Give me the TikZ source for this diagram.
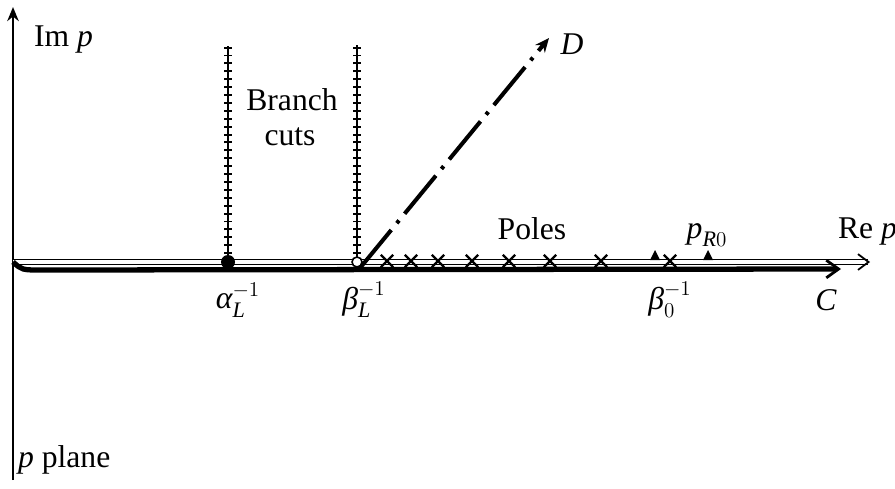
\documentclass[tikz,border=0pt]{standalone}
\usepackage{amsmath}
\usepackage{fontspec}
\setmainfont{Liberation Serif}
\usepackage{tikz}
\usetikzlibrary{arrows.meta,positioning,calc,shapes.misc}
\tikzset{
  lbl/.style={font=\fontsize{18}{21}\selectfont,inner sep=1pt},
  cutline/.style={line width=1.5pt},
  cutbeads/.style={line width=4.4pt,dash pattern=on 1.1pt off 3.4pt},
  pole/.style={cross out,draw,line width=1.3pt,minimum size=5.8pt,inner sep=0pt},
  tri/.style={fill=black},
}

\begin{document}
\begin{tikzpicture}[x=0.02cm,y=0.02cm]
\useasboundingbox (0,0) rectangle (895,488);
\coordinate (ybot) at (13,8);
\coordinate (ytop) at (13,481);
\coordinate (O) at (13,226);
\coordinate (xend) at (870,226);
\coordinate (cend) at (841,219);
\coordinate (aL) at (228,226);
\coordinate (aLtop) at (228,442);
\coordinate (bL) at (357,226);
\coordinate (bLtop) at (357,443);
\coordinate (Dstart) at (360,220);
\coordinate (Dend) at (549,450);
\draw[line width=1.4pt,-{Stealth[length=8pt,width=6.5pt]}] (ybot) -- (ytop);
\draw[line width=0.7pt,double,double distance=2.3pt,-{Straight Barb[length=6pt,width=9pt,line width=1pt]}] (O) -- (xend);
\draw[line width=3pt,-{Straight Barb[length=7pt,width=10pt,line width=1.6pt]}] (O) .. controls (22,218) .. (42,218) -- (cend);
\draw[cutline] (aL) -- (aLtop);
\draw[cutbeads] (aL) -- (aLtop);
\draw[cutline] (bL) -- (bLtop);
\draw[cutbeads] (bL) -- (bLtop);
\fill (aL) circle[radius=7];
\filldraw[fill=white,draw=black,line width=0.9pt] (bL) circle[radius=5];
\draw[line width=2.3pt,dash pattern=on 28pt off 5pt on 2pt off 5pt,-{Stealth[length=8pt,width=7pt]}] (Dstart) -- (Dend);
\foreach \px [count=\i] in {387,411,438,472,509,550,601,670}
  \node[pole] (pole\i) at (\px,227) {};
\fill[tri] (650,228) -- (660,228) -- (655,238) -- cycle;
\fill[tri] (703,228) -- (713,228) -- (708,238) -- cycle;
\node[lbl,anchor=west] (imlbl) at (32,448) {Im \textit{p}};
\node[lbl,anchor=west] (plane) at (16,28) {\textit{p} plane};
\node[lbl] (branch) at (292,388) {Branch};
\node[lbl] (cuts) at (290,351) {cuts};
\node[lbl] (alpha) at (238,188) {$\textit{α}^{-1}_{\textit{L}}$};
\node[lbl] (betaL) at (364,188) {$\textit{β}^{-1}_{\textit{L}}$};
\node[lbl] (beta0) at (670,188) {$\textit{β}^{-1}_{0}$};
\node[lbl] (poles) at (532,259) {Poles};
\node[lbl] (pR) at (707,253) {$\textit{p}_{\textit{R}0}$};
\node[lbl,anchor=west] (rep) at (836,256) {Re \textit{p}};
\node[lbl] (clbl) at (826,188) {\textit{C}};
\node[lbl] (dlbl) at (572,444) {\textit{D}};
\end{tikzpicture}
\end{document}
